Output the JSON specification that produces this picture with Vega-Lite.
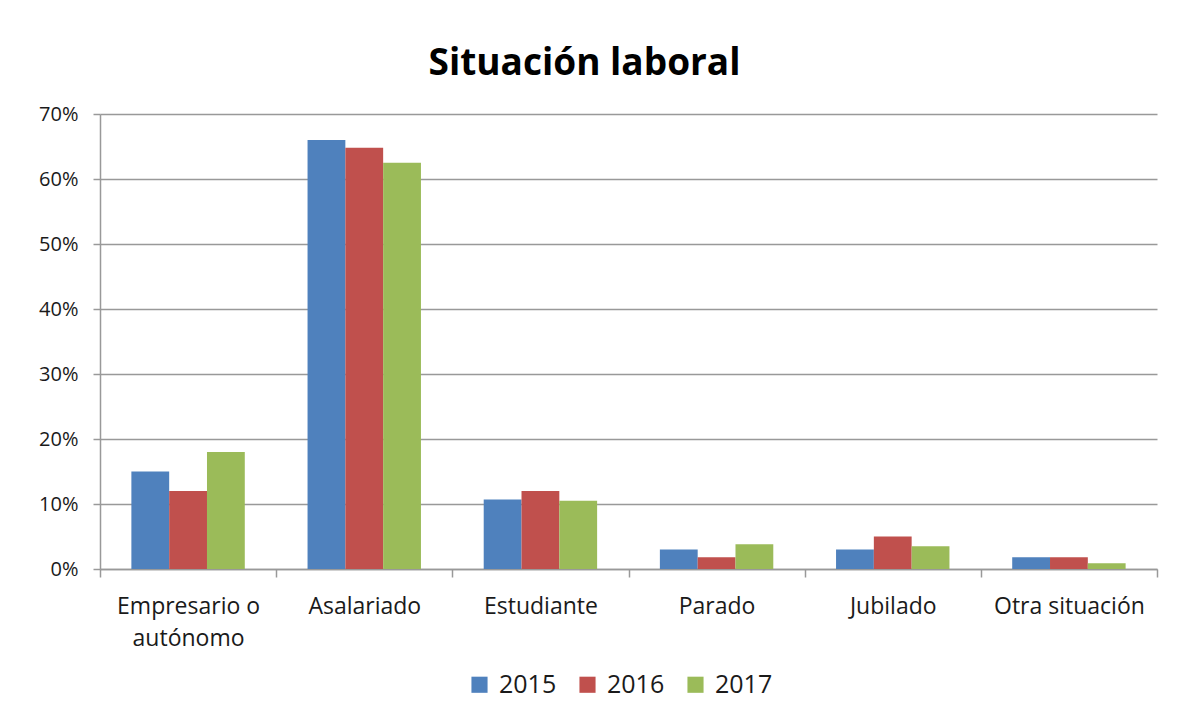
{
  "$schema": "https://vega.github.io/schema/vega-lite/v6.json",
  "width": 1057,
  "height": 455,
  "autosize": {"type": "none"},
  "padding": {"left": 100, "top": 114, "right": 21, "bottom": 138},
  "background": "white",
  "title": {
    "text": "Situación laboral",
    "font": "Open Sans",
    "fontSize": 37,
    "fontWeight": "bold",
    "color": "#000000",
    "anchor": "middle",
    "frame": "group",
    "dx": -44,
    "dy": 35,
    "baseline": "alphabetic",
    "offset": 27
  },
  "data": {
    "values": [
      {"categoria": "Empresario o autónomo", "anio": "2015", "valor": 0.15},
      {"categoria": "Empresario o autónomo", "anio": "2016", "valor": 0.12},
      {"categoria": "Empresario o autónomo", "anio": "2017", "valor": 0.18},
      {"categoria": "Asalariado", "anio": "2015", "valor": 0.66},
      {"categoria": "Asalariado", "anio": "2016", "valor": 0.648},
      {"categoria": "Asalariado", "anio": "2017", "valor": 0.625},
      {"categoria": "Estudiante", "anio": "2015", "valor": 0.107},
      {"categoria": "Estudiante", "anio": "2016", "valor": 0.12},
      {"categoria": "Estudiante", "anio": "2017", "valor": 0.105},
      {"categoria": "Parado", "anio": "2015", "valor": 0.03},
      {"categoria": "Parado", "anio": "2016", "valor": 0.018},
      {"categoria": "Parado", "anio": "2017", "valor": 0.038},
      {"categoria": "Jubilado", "anio": "2015", "valor": 0.03},
      {"categoria": "Jubilado", "anio": "2016", "valor": 0.05},
      {"categoria": "Jubilado", "anio": "2017", "valor": 0.035},
      {"categoria": "Otra situación", "anio": "2015", "valor": 0.018},
      {"categoria": "Otra situación", "anio": "2016", "valor": 0.018},
      {"categoria": "Otra situación", "anio": "2017", "valor": 0.009}
    ]
  },
  "mark": {"type": "bar"},
  "encoding": {
    "x": {
      "field": "categoria",
      "type": "nominal",
      "sort": null,
      "scale": {"paddingInner": 0, "paddingOuter": 0},
      "axis": {
        "title": null,
        "labelAngle": 0,
        "tickBand": "extent",
        "tickSize": 8,
        "tickColor": "#999999",
        "tickWidth": 1.5,
        "domainColor": "#999999",
        "domainWidth": 1.5,
        "labelPadding": 18,
        "labelFont": "Open Sans",
        "labelFontSize": 23,
        "labelColor": "#1a1a1a",
        "labelLineHeight": 32,
        "labelBaseline": "top",
        "grid": false,
        "labelExpr": "datum.label == 'Empresario o autónomo' ? ['Empresario o', 'autónomo'] : datum.label"
      }
    },
    "xOffset": {"field": "anio", "type": "nominal", "scale": {"paddingInner": 0, "paddingOuter": 0.83}},
    "y": {
      "field": "valor",
      "type": "quantitative",
      "scale": {"domain": [0, 0.7], "nice": false},
      "axis": {
        "title": null,
        "format": ".0%",
        "values": [0, 0.1, 0.2, 0.3, 0.4, 0.5, 0.6, 0.7],
        "tickSize": 7,
        "tickColor": "#999999",
        "tickWidth": 1.5,
        "domainColor": "#999999",
        "domainWidth": 1.5,
        "gridColor": "#999999",
        "gridWidth": 1.5,
        "labelPadding": 15,
        "labelFont": "Open Sans",
        "labelFontSize": 20,
        "labelColor": "#1a1a1a"
      }
    },
    "color": {
      "field": "anio",
      "type": "nominal",
      "scale": {"domain": ["2015", "2016", "2017"], "range": ["#4F81BD", "#C0504D", "#9BBB59"]},
      "legend": {
        "orient": "none",
        "legendX": 367,
        "legendY": 558,
        "direction": "horizontal",
        "title": null,
        "symbolType": "square",
        "symbolSize": 260,
        "symbolStrokeWidth": 0,
        "symbolOpacity": 1,
        "labelFont": "Open Sans",
        "labelFontSize": 25,
        "labelColor": "#1a1a1a",
        "labelOffset": 7,
        "columnPadding": 18
      }
    }
  },
  "config": {
    "view": {"stroke": null}
  }
}
